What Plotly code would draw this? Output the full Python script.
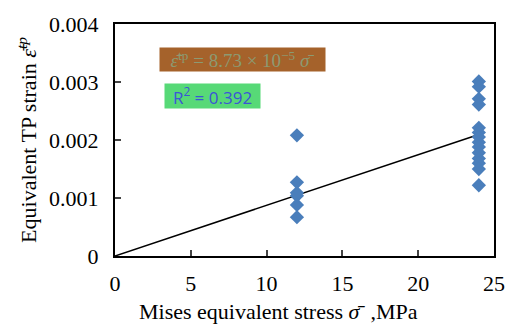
import plotly.graph_objects as go

stress_12 = [12, 12, 12, 12, 12, 12]
strain_12 = [0.00208, 0.00127, 0.00109, 0.00104, 0.00088, 0.00067]
stress_24 = [24] * 14
strain_24 = [0.00301, 0.00292, 0.00271, 0.00261, 0.00221, 0.00213, 0.00205,
             0.00196, 0.00188, 0.00178, 0.00168, 0.00160, 0.00150, 0.00122]
fit_slope = 8.73e-5
fit_x = [0, 24]
fit_y = [fit_slope * v for v in fit_x]

x_ticks = [0, 5, 10, 15, 20, 25]
y_ticks = [0, 0.001, 0.002, 0.003, 0.004]
y_tick_text = ["0", "0.001", "0.002", "0.003", "0.004"]

serif = "Liberation Serif"

fig = go.Figure()
fig.add_trace(go.Scatter(x=fit_x, y=fit_y, mode="lines",
                         line=dict(color="black", width=1.5), showlegend=False))
fig.add_trace(go.Scatter(x=stress_12 + stress_24, y=strain_12 + strain_24, mode="markers",
                         marker=dict(symbol="diamond", size=11, color="#4A7EBB"),
                         showlegend=False))

fig.update_layout(
    width=517, height=329,
    margin=dict(l=115, r=17, t=16, b=73),
    paper_bgcolor="white", plot_bgcolor="white",
    font=dict(family=serif, color="black", size=22),
    xaxis=dict(range=[0, 25], tickvals=x_ticks, ticks="inside", ticklen=6, tickwidth=1.5,
               showline=True, linecolor="black", linewidth=2, mirror=True,
               showgrid=False, zeroline=False, tickfont=dict(size=22),
               ticklabelstandoff=7),
    yaxis=dict(range=[0, 0.004], tickvals=y_ticks, ticktext=y_tick_text, ticks="inside",
               ticklen=6, tickwidth=1.5, ticklabelstandoff=10,
               showline=True, linecolor="black", linewidth=2, mirror=True,
               showgrid=False, zeroline=False, tickfont=dict(size=22),
               title=dict(text="Equivalent TP strain <i>ε̄</i><sup><i>tp</i></sup>", font=dict(size=22), standoff=6)),
)

fig.add_annotation(
    xref="paper", yref="paper", x=(281 - 115) / 385, y=-(313 - 256) / 240,
    xanchor="center", yanchor="middle", showarrow=False,
    text="Mises equivalent stress <i>σ̄</i>&nbsp;&nbsp;,MPa",
    font=dict(family=serif, size=22, color="black"),
)
fig.add_annotation(
    xref="paper", yref="paper", x=(160 - 115) / 385, y=1 - (40 - 16) / 240,
    xanchor="left", yanchor="top", showarrow=False,
    text="<i>ε̄</i><sup>tp</sup> = 8.73 × 10<sup>−5</sup> <i>σ̄</i>",
    font=dict(family="Liberation Serif", size=19, color="#8C9A72"),
    bgcolor="#A5622B", width=165, height=23, borderpad=0, align="center",
)
fig.add_annotation(
    xref="paper", yref="paper", x=(165 - 115) / 385, y=1 - (77 - 16) / 240,
    xanchor="left", yanchor="top", showarrow=False,
    text="R<sup>2</sup> = 0.392",
    font=dict(family="Open Sans", size=17, color="#3B55D6"),
    bgcolor="#57D977", width=95, height=24, borderpad=0, align="center",
)

fig.write_html("out.html")
